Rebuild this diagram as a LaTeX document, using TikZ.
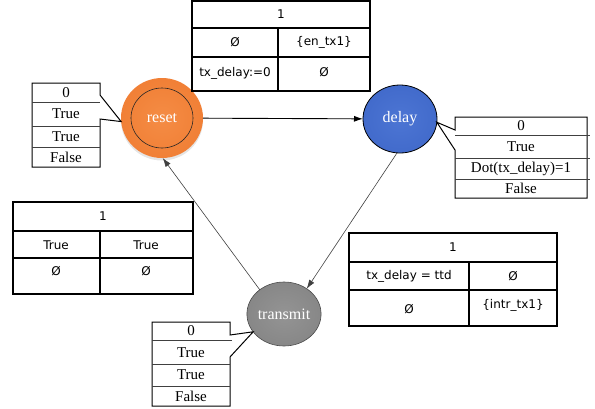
\documentclass[tikz,border=0pt]{standalone}
\usepackage{fontspec}
\setmainfont{Liberation Serif}
\newfontfamily\tabfont{DejaVu Sans}
\usetikzlibrary{shapes.geometric,arrows.meta,calc}

% soft ball shadings for the three states
\pgfdeclareradialshading{resetball}{\pgfpoint{0bp}{0bp}}{%
  rgb(0bp)=(0.96,0.55,0.27); rgb(30bp)=(0.94,0.49,0.20); rgb(50bp)=(0.89,0.42,0.13)}
\pgfdeclareradialshading{delayball}{\pgfpoint{0bp}{0bp}}{%
  rgb(0bp)=(0.30,0.46,0.83); rgb(30bp)=(0.25,0.41,0.79); rgb(50bp)=(0.17,0.32,0.69)}
\pgfdeclareradialshading{transball}{\pgfpoint{0bp}{0bp}}{%
  rgb(0bp)=(0.58,0.58,0.58); rgb(30bp)=(0.52,0.52,0.52); rgb(50bp)=(0.40,0.40,0.40)}

\tikzset{
  state/.style={ellipse, inner sep=0pt, outer sep=0pt, text=white,
    font=\fontsize{16}{16}\selectfont},
  tabframe/.style={draw=black, line width=1.3pt},
  cell/.style={inner sep=0pt, font=\tabfont\fontsize{12}{12}\selectfont},
  lblbox/.style={rectangle, inner sep=0pt, outer sep=0pt},
  callout/.style={draw=black, line width=1pt, line join=miter},
  divider/.style={draw=black!75, line width=0.6pt},
  lbl/.style={inner sep=0pt, font=\fontsize{15}{15}\selectfont},
  trans/.style={draw=black!75, line width=0.6pt, -{Latex[length=9pt,width=6pt]}}
}

\begin{document}
\begin{tikzpicture}[x=1pt,y=-1pt]
\useasboundingbox (0,0) rectangle (595,408);

% ---------- states ----------
\fill[black, opacity=0.10] (162,120.5) ellipse (41 and 40);
\node[state, shade, shading=resetball,
      minimum width=82pt, minimum height=80pt] (reset) at (162,118) {reset};
\node[ellipse, draw=black!85, line width=0.6pt, inner sep=0pt,
      minimum width=62pt, minimum height=60pt] (resetring) at (reset.center) {};
\node[state, draw=black, line width=0.8pt, shade, shading=delayball,
      minimum width=74pt, minimum height=68pt] (delay) at (400,119) {delay};
\node[state, draw=black!70, line width=0.6pt, shade, shading=transball,
      minimum width=71pt, minimum height=64pt] (transmit) at (284,314) {transmit};

% ---------- transitions ----------
\draw[trans, draw=black, line width=0.9pt] (reset) -- (delay);
\draw[trans] (delay.265) -- (transmit.48);
\draw[trans] (transmit.135) -- (reset.-89);

% ---------- transition tables ----------
% reset -> delay
\draw[tabframe] (192,1) rectangle (370,91);
\draw[tabframe] (192,28) -- (370,28) (192,57) -- (370,57) (278,28) -- (278,91);
\node[cell] (t1h)  at (281,14) {1};
\node[cell] (t1a)  at (235,42) {Ø};
\node[cell] (t1b)  at (324,42) {\{en\_tx1\}};
\node[cell] (t1c)  at (235,73) {tx\_delay:=0};
\node[cell] (t1d)  at (324,72) {Ø};

% transmit -> reset
\draw[tabframe] (13,202) rectangle (193,294);
\draw[tabframe] (13,231) -- (193,231) (13,258) -- (193,258) (100,231) -- (100,294);
\node[cell] (t2h) at (103,216) {1};
\node[cell] (t2a) at (56,245) {True};
\node[cell] (t2b) at (146,245) {True};
\node[cell] (t2c) at (56,271) {Ø};
\node[cell] (t2d) at (146,271) {Ø};

% delay -> transmit
\draw[tabframe] (349,233) rectangle (557,326);
\draw[tabframe] (349,262) -- (557,262) (349,290) -- (557,290) (469,262) -- (469,326);
\node[cell] (t3h) at (453,247) {1};
\node[cell] (t3a) at (409,276) {tx\_delay = ttd};
\node[cell] (t3b) at (513,276) {Ø};
\node[cell] (t3c) at (409,309) {Ø};
\node[cell] (t3d) at (513,305) {\{intr\_tx1\}};

% ---------- state labels ----------
% reset
\node[lblbox, minimum width=68pt, minimum height=84pt] (rbox) at (66,125) {};
\draw[callout] (rbox.north west) -- (rbox.north east) -- ($(rbox.north east)+(0,12)$)
  -- (reset.185) -- ($(rbox.north east)+(0,36)$) -- (rbox.south east)
  -- (rbox.south west) -- cycle;
\draw[divider] (32,102) -- (100,102) (32,126) -- (100,126) (32,147) -- (100,147);
\node[lbl] (r0) at (66,92.5) {0};
\node[lbl] (r1) at (66,114) {True};
\node[lbl] (r2) at (66,136.5) {True};
\node[lbl] (r3) at (66,157) {False};

% delay
\node[lblbox, minimum width=132pt, minimum height=81pt] (dbox) at (521,157.5) {};
\draw[callout] (dbox.north west) -- (dbox.north east) -- (dbox.south east)
  -- (dbox.south west) -- ($(dbox.north west)+(0,33)$) -- (delay.-5)
  -- ($(dbox.north west)+(0,13)$) -- cycle;
\draw[divider] (455,135) -- (590,135) (455,158) -- (590,158) (455,179) -- (590,179);
\node[lbl] (d0) at (521,126) {0};
\node[lbl] (d1) at (521,146.5) {True};
\node[lbl] (d2) at (521,168.5) {Dot(tx\_delay)=1};
\node[lbl] (d3) at (521,188.5) {False};

% transmit
\node[lblbox, minimum width=78pt, minimum height=84pt] (tbox) at (191,364) {};
\draw[callout] (tbox.north west) -- (tbox.north east) -- ($(tbox.north east)+(0,13)$)
  -- (transmit.210) -- ($(tbox.north east)+(0,35)$) -- (tbox.south east)
  -- (tbox.south west) -- cycle;
\draw[divider] (152,340) -- (232,340) (152,364) -- (230,364) (152,386) -- (230,386);
\node[lbl] (s0) at (191,331) {0};
\node[lbl] (s1) at (191,352.5) {True};
\node[lbl] (s2) at (191,375) {True};
\node[lbl] (s3) at (191,396) {False};
\end{tikzpicture}
\end{document}
